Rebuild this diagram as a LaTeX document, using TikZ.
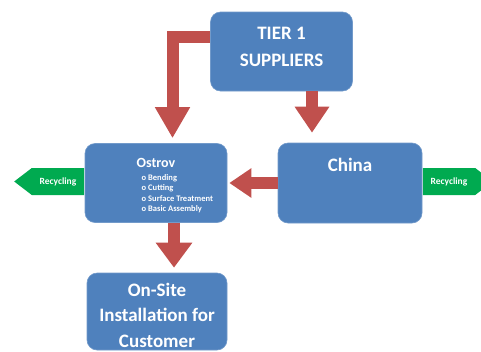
\documentclass[tikz,border=0pt]{standalone}
\usepackage{fontspec}
\setmainfont{Carlito}
\usetikzlibrary{arrows.meta,shapes.arrows,positioning}
\definecolor{boxblue}{RGB}{79,129,189}
\definecolor{arrowred}{RGB}{192,80,77}
\definecolor{recgreen}{RGB}{0,170,80}

\begin{document}
\begin{tikzpicture}[x=1pt, y=-1pt]
	\tikzset{box/.style = {draw=boxblue!80!white, line width=0.6pt, fill=boxblue, rounded corners=10pt, minimum width=142pt, minimum height=79pt, inner sep=0pt}}
	\tikzset{boxtext/.style = {text=white, font=\bfseries\fontsize{19}{27}\selectfont, align=center, inner sep=0pt}}
	\tikzset{smalltext/.style = {text=white, font=\bfseries\fontsize{8.5}{10.6}\selectfont, align=left, inner sep=0pt}}
	\tikzset{blockarrow/.style 2 args = {draw=arrowred, line width=12pt, line join=miter, -{Triangle[width=#1, length=#2]}}}
	\tikzset{recycle/.style = {single arrow, single arrow head extend=0pt, single arrow tip angle=75, fill=recgreen, text=white, font=\bfseries\fontsize{9.5}{11}\selectfont, minimum height=70pt, minimum width=27pt, inner sep=1pt}}
	\useasboundingbox (0,0) rectangle (481,351);
	\clip (0,0) rectangle (481,351);
	% recycling tags behind the boxes
	\node[recycle, shape border rotate=180] (RecLeft) at (58,181.5) {Recycling};
	\node[recycle] (RecRight) at (449,181.5) {Recycling};
	% boxes
	\node[box] (Tier) at (281.5,51.5) {};
	\node[box] (Ostrov) at (156,183) {};
	\node[box, minimum width=144pt, minimum height=80pt] (China) at (350,183) {};
	\node[box, minimum width=140pt, minimum height=77pt] (OnSite) at (157,311.5) {};
	\node[boxtext, anchor=north] (TierText) at (281.5,26.7) {TIER 1\\SUPPLIERS};
	\node[boxtext, anchor=base] (ChinaText) at (350,171) {China};
	\node[boxtext, font=\bfseries\fontsize{19}{25.5}\selectfont, anchor=north] (OnSiteText) at (157,282.5) {On-Site\\Installation for\\Customer};
	\node[boxtext, font=\bfseries\fontsize{14}{17}\selectfont, anchor=base] (OstrovText) at (156,167) {Ostrov};
	\node[smalltext, anchor=north west] (OstrovList) at (141.5,174) {o Bending\\o Cutting\\o Surface Treatment\\o Basic Assembly};
	% flows
	\draw[blockarrow={33pt}{31pt}, shorten >=5pt] ([yshift=15pt]Tier.west) -| ([xshift=16.5pt]Ostrov.north);
	\draw[blockarrow={33pt}{26pt}, shorten >=10pt] ([xshift=30.5pt]Tier.south) -- ([xshift=-38pt]China.north);
	\draw[blockarrow={28pt}{22pt}, shorten >=2pt] (China.west) -- (Ostrov.east);
	\draw[blockarrow={35pt}{25pt}, shorten >=5pt] ([xshift=18pt]Ostrov.south) -- ([xshift=17pt]OnSite.north);
\end{tikzpicture}
\end{document}
